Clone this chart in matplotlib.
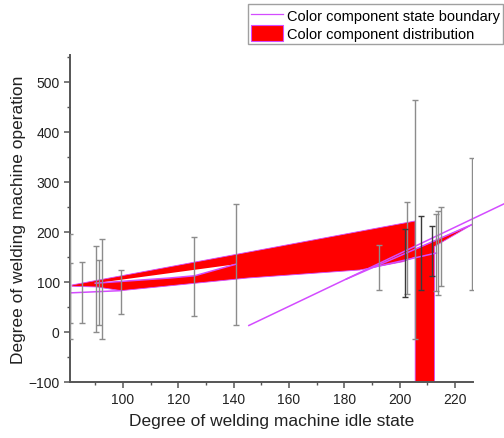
import matplotlib
matplotlib.use('Agg')
import numpy as np
import matplotlib.pyplot as plt
from matplotlib.patches import Polygon, Patch
from matplotlib.lines import Line2D
from matplotlib.ticker import MultipleLocator

plt.rcParams['font.family'] = ['Liberation Sans', 'DejaVu Sans']

# ---- data ----
# error bars: x position, lower end, upper end, tone
eb_x    = [80.9, 80.9, 85.3, 90.2, 91.3, 92.3, 99.3, 125.8, 140.7, 192.5, 201.9, 202.6, 205.6, 207.7, 211.8, 213.1, 213.8, 214.8, 226.3]
eb_low  = [18, -14, 18, 0, 14.6, -14, 36.7, 32, 14.7, 84, 69, 76, -14.7, 84.7, 111, 81, 74, 91, 84]
eb_high = [138, 195, 140.6, 172, 144, 186, 124.7, 190.7, 256.7, 174, 206.7, 260.7, 463, 231, 211, 236, 241, 250, 348.7]
eb_dark = [0, 0, 0, 0, 0, 0, 0, 0, 0, 0, 1, 0, 0, 1, 1, 0, 0, 0, 0]

# colour component distribution (outer region boundary)
dist_x = [81.6, 205.6, 205.6, 226.6, 212.6, 212.6, 205.6, 205.6, 201.3, 185.6, 145.2, 99.4, 90.5, 81.6]
dist_y = [94, 222, 165.5, 216, 171, -100, -100, 150, 140.6, 124, 108, 82.7, 90, 91.5]
# gap inside the distribution
gap_x = [90.0, 140.8, 126.0, 117.0]
gap_y = [97.5, 135.5, 112.5, 108.0]

# colour component state boundaries
bA_x, bA_y = [145.5, 237.6], [13, 256]
bB_x, bB_y = [180.8, 226.6], [106, 216]
bC_x, bC_y = [80.1, 99.4], [78, 82.7]
bD_x, bD_y = [90.0, 117.0, 126.0, 140.8], [97.5, 108.0, 112.5, 135.5]
bE_x, bE_y = [189.3, 213.3], [128, 158]

# ---- figure ----
fig = plt.figure(figsize=(5.04, 4.39), dpi=100)
ax = fig.add_axes([0.139, 0.1276, 0.7995, 0.7449])

mag = '#d34cff'
ax.add_patch(Polygon(np.column_stack([dist_x, dist_y]), closed=True,
                     facecolor='#ff0000', edgecolor=mag, linewidth=0.6, zorder=2))
ax.add_patch(Polygon(np.column_stack([gap_x, gap_y]), closed=True,
                     facecolor='white', edgecolor='none', zorder=2.5))

for bx, by, clip in [(bA_x, bA_y, False), (bB_x, bB_y, True), (bC_x, bC_y, True),
                     (bD_x, bD_y, True), (bE_x, bE_y, True)]:
    ax.plot(bx, by, color=mag, linewidth=1.1, zorder=3, clip_on=clip)

x = np.array(eb_x)
lo = np.array(eb_low)
hi = np.array(eb_high)
mid = (lo + hi) / 2
for dark in (0, 1):
    m = np.array(eb_dark) == dark
    ax.errorbar(x[m], mid[m], yerr=[mid[m] - lo[m], hi[m] - mid[m]], fmt='none',
                ecolor='#3a3a3a' if dark else '#8c8c8c', elinewidth=1.0,
                capsize=2.2, capthick=1.0, zorder=4)

ax.set_xlim(80.9, 226.5)
ax.set_ylim(-100, 554)
ax.xaxis.set_minor_locator(MultipleLocator(10))
ax.yaxis.set_minor_locator(MultipleLocator(50))
ax.set_xticks([100, 120, 140, 160, 180, 200, 220])
ax.set_yticks([-100, 0, 100, 200, 300, 400, 500])

for s in ['top', 'right']:
    ax.spines[s].set_visible(False)
for s in ['left', 'bottom']:
    ax.spines[s].set_color('#555555')
    ax.spines[s].set_linewidth(1.4)
ax.tick_params(which='major', direction='out', length=4, width=1.1, color='#555555',
               labelsize=10, labelcolor='#222222')
ax.tick_params(which='minor', direction='out', length=2.5, width=1.0, color='#555555')

ax.set_xlabel('Degree of welding machine idle state', fontsize=12.5, color='#222222', labelpad=5)
ax.set_ylabel('Degree of welding machine operation', fontsize=12.5, color='#222222', labelpad=2)

handles = [Line2D([0], [0], color=mag, linewidth=0.9),
           Patch(facecolor='#ff0000', edgecolor=mag, linewidth=0.8)]
labels = ['Color component state boundary', 'Color component distribution']
leg = fig.legend(handles, labels, loc='upper left', bbox_to_anchor=(0.492, 0.988),
                 fontsize=10.5, frameon=True, fancybox=False, handlelength=2.2,
                 handleheight=1.3, borderpad=0.2, labelspacing=0.12, handletextpad=0.3,
                 borderaxespad=0)
leg.get_frame().set_edgecolor('#888888')
leg.get_frame().set_linewidth(1.0)

fig.savefig('out.png', dpi=100)
